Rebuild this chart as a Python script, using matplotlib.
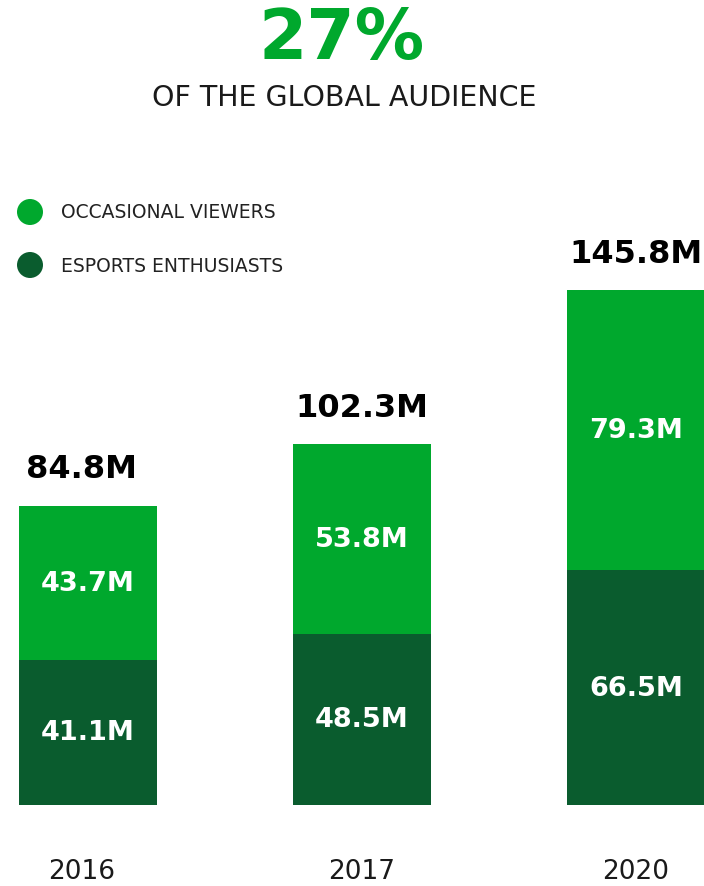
import matplotlib.pyplot as plt
import numpy as np
from matplotlib.patches import Ellipse

years = ["2016", "2017", "2020"]
enthusiasts = [41.1, 48.5, 66.5]
occasional = [43.7, 53.8, 79.3]
totals = [84.8, 102.3, 145.8]

light = "#00a82d"
dark = "#0a5c2e"

plt.rcParams['font.family'] = ['DejaVu Sans']

fig = plt.figure(figsize=(7.04, 8.87), dpi=100)
W, H = 704, 887

# bars: baseline at y=806px, 3.53 px per million
ax = fig.add_axes([0, 81 / H, 1, 565 / H])
ax.set_xlim(-88 / 274, (W - 88) / 274)
ax.set_ylim(0, 565 / 3.53)
ax.axis("off")

x = np.arange(len(years))
ax.bar(x, enthusiasts, width=0.504, color=dark)
ax.bar(x, occasional, bottom=enthusiasts, width=0.504, color=light)

for i in range(len(years)):
    shift = -0.025 if i == 0 else 0.0
    ax.text(x[i], enthusiasts[i] / 2, f"{enthusiasts[i]}M", ha="center", va="center",
            color="white", fontsize=19.5, fontweight="bold")
    ax.text(x[i], enthusiasts[i] + occasional[i] / 2, f"{occasional[i]}M", ha="center",
            va="center", color="white", fontsize=19.5, fontweight="bold")
    ax.text(x[i] + shift, totals[i] + 6.0, f"{totals[i]}M", ha="center", va="bottom",
            color="black", fontsize=23, fontweight="bold")
    ax.text(x[i] + shift, -18.8, years[i], ha="center", va="center",
            color="#1a1a1a", fontsize=19)

# headline
fig.text(342 / W, 1 - 40 / H, "27%", ha="center", va="center", color=light,
         fontsize=50, fontweight="bold")
fig.text(344 / W, 1 - 98 / H, "OF THE GLOBAL AUDIENCE", ha="center", va="center",
         color="#1a1a1a", fontsize=20.5)

# legend
for yy, col, lab in [(213, light, "OCCASIONAL VIEWERS"), (266, dark, "ESPORTS ENTHUSIASTS")]:
    fig.add_artist(Ellipse((30 / W, 1 - yy / H), 26 / W, 26 / H, transform=fig.transFigure,
                           facecolor=col, edgecolor="none"))
    fig.text(61 / W, 1 - yy / H, lab, ha="left", va="center", color="#222222",
             fontsize=13.5)

fig.savefig("out.png", dpi=100)
